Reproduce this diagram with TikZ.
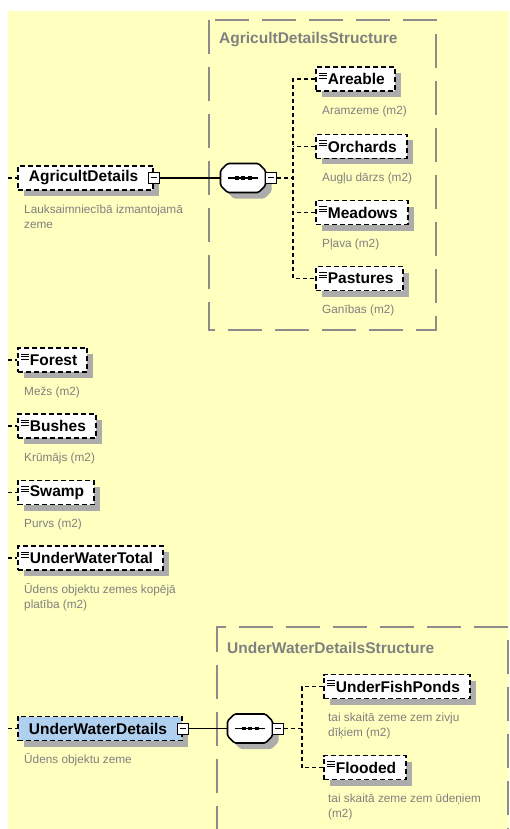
\documentclass[tikz,border=0pt]{standalone}
\usepackage{fontspec}
\setmainfont{Liberation Sans}
\usepackage{tikz}
\usetikzlibrary{shadows}
\definecolor{paper}{RGB}{255,255,192}
\definecolor{descgray}{RGB}{128,128,128}
\definecolor{framegray}{RGB}{140,140,140}
\definecolor{shadegray}{RGB}{172,172,172}
\definecolor{selblue}{RGB}{176,208,240}
\newcommand{\ename}[1]{\hspace*{9pt}#1\hspace*{7pt}}
\newcommand{\cname}[1]{\hspace*{8pt}#1\hspace*{12pt}}
% sequence compositor drawn round a seqbox node
\newcommand{\seqoct}[1]{%
  \draw[octo] ([xshift=7pt]#1.north west) -- ([xshift=-7pt]#1.north east)
    -- ([yshift=-7pt]#1.north east) -- ([yshift=7pt]#1.south east)
    -- ([xshift=-7pt]#1.south east) -- ([xshift=7pt]#1.south west)
    -- ([yshift=7pt]#1.south west) -- ([yshift=-7pt]#1.north west) -- cycle;
  \draw[seqbar] ([xshift=-15pt]#1.center) -- ([xshift=15pt]#1.center);
  \foreach \dx in {-6.5,0,6.5}
    \fill ([xshift=\dx pt]#1.center) +(-2pt,-1.8pt) rectangle +(2pt,1.8pt);}

\begin{document}
\begin{tikzpicture}[x=1pt,y=-1pt,
  elem/.style={draw=black, fill=white, line width=1.8pt, dash pattern=on 5pt off 3pt,
    minimum height=24pt, inner xsep=3pt, inner ysep=0pt, anchor=west,
    font=\fontsize{15.5}{18}\selectfont\bfseries,
    general shadow={fill=shadegray, shadow xshift=6pt, shadow yshift=-6pt}},
  simple/.style={elem, path picture={
    \foreach \k in {0,1,2}
      \draw[solid, black, line width=0.9pt] ([xshift=3pt, yshift={-6pt-2.7pt*\k}]path picture bounding box.north west) -- ++(8pt,0);}},
  minus/.style={draw=black, fill=white, solid, line width=1pt, minimum width=11pt,
    minimum height=11pt, inner sep=0pt, path picture={
    \draw[solid, black, line width=1pt] ([xshift=-3pt]path picture bounding box.center) -- ([xshift=3pt]path picture bounding box.center);}},
  seqbox/.style={minimum width=45pt, minimum height=29pt, inner sep=0pt, outer sep=0pt},
  octo/.style={draw=black, fill=white, line width=1.6pt, rounded corners=1.5pt,
    general shadow={fill=shadegray, shadow xshift=6pt, shadow yshift=-6pt}},
  seqbar/.style={draw=black, line width=1.5pt},
  desc/.style={anchor=north west, inner sep=0pt, align=left, text=descgray,
    font=\fontsize{11.8}{15}\selectfont},
  struct/.style={draw=framegray, line width=2pt, dash pattern=on 34pt off 13pt},
  title/.style={anchor=west, inner sep=0pt, text=descgray, font=\fontsize{15.5}{18}\selectfont\bfseries},
  link/.style={draw=black, line width=1.5pt},
  dlink/.style={link, dash pattern=on 4pt off 3pt}]
\useasboundingbox (0,0) rectangle (509,829);
\clip (0,0) rectangle (509,829);
\fill[paper] (8,11) rectangle (509,829);
\coordinate (edge) at (8,0);
% AgricultDetails
\draw[struct] (209,20) rectangle (436,330);
\node[title] (agriT) at (219,40) {AgricultDetailsStructure};
\node[elem] (agri) at (17,178) {\cname{AgricultDetails}};
\node[minus] (agriM) at (agri.east) {};
\node[desc] (agriD) at ([xshift=7pt,yshift=-11.5pt]agri.south west) {\strut Lauksaimniecībā izmantojamā\\zeme};
\node[seqbox] (seqA) at (243,178) {};
\seqoct{seqA}
\node[minus] (seqAM) at ([xshift=5.5pt]seqA.east) {};
\coordinate (spineA) at (293,178);
\node[simple] (areable) at (315,79) {\ename{Areable}};
\node[desc] (areableD) at ([xshift=7pt,yshift=-11.5pt]areable.south west) {\strut Aramzeme (m2)};
\node[simple] (orchards) at (315,146.5) {\ename{Orchards}};
\node[desc] (orchardsD) at ([xshift=7pt,yshift=-11.5pt]orchards.south west) {\strut Augļu dārzs (m2)};
\node[simple] (meadows) at (315,212.5) {\ename{Meadows}};
\node[desc] (meadowsD) at ([xshift=7pt,yshift=-11.5pt]meadows.south west) {\strut Pļava (m2)};
\node[simple] (pastures) at (315,278.5) {\ename{Pastures}};
\node[desc] (pasturesD) at ([xshift=7pt,yshift=-11.5pt]pastures.south west) {\strut Ganības (m2)};
% plain elements
\node[simple] (forest) at (17,360) {\ename{Forest}};
\node[desc] (forestD) at ([xshift=7pt,yshift=-11.5pt]forest.south west) {\strut Mežs (m2)};
\node[simple] (bushes) at (17,426) {\ename{Bushes}};
\node[desc] (bushesD) at ([xshift=7pt,yshift=-11.5pt]bushes.south west) {\strut Krūmājs (m2)};
\node[simple] (swamp) at (17,492.5) {\ename{Swamp}};
\node[desc] (swampD) at ([xshift=7pt,yshift=-11.5pt]swamp.south west) {\strut Purvs (m2)};
\node[simple] (uwtotal) at (17,558) {\ename{UnderWaterTotal}};
\node[desc] (uwtotalD) at ([xshift=7pt,yshift=-11.5pt]uwtotal.south west) {\strut Ūdens objektu zemes kopējā\\platība (m2)};
% UnderWaterDetails
\draw[struct] (217,840) |- (508,627) -- (508,840);
\node[title] (uwdetT) at (227,648) {UnderWaterDetailsStructure};
\node[elem, fill=selblue] (uwdet) at (17,728.5) {\cname{UnderWaterDetails}};
\node[minus] (uwdetM) at (uwdet.east) {};
\node[desc] (uwdetD) at ([xshift=7pt,yshift=-11.5pt]uwdet.south west) {\strut Ūdens objektu zeme};
\node[seqbox] (seqB) at (250,728.5) {};
\seqoct{seqB}
\node[minus] (seqBM) at ([xshift=5.5pt]seqB.east) {};
\coordinate (spineB) at (302,728.5);
\node[simple] (fish) at (323,686.5) {\ename{UnderFishPonds}};
\node[desc] (fishD) at ([xshift=5pt,yshift=-11.5pt]fish.south west) {\strut tai skaitā zeme zem zivju\\dīķiem (m2)};
\node[simple] (flooded) at (323,767.5) {\ename{Flooded}};
\node[desc] (floodedD) at ([xshift=5pt,yshift=-11.5pt]flooded.south west) {\strut tai skaitā zeme zem ūdeņiem\\(m2)};
% links
\draw[link] (agriM.east) -- (seqA.west);
\draw[dlink] (seqAM.east) -- (spineA);
\draw[dlink] (areable.west) -| (spineA) |- (pastures.west);
\draw[dlink] (orchards.west) -- (orchards.west -| spineA);
\draw[dlink] (meadows.west) -- (meadows.west -| spineA);
\draw[link] (uwdetM.east) -- (seqB.west);
\draw[dlink] (seqBM.east) -- (spineB);
\draw[dlink] (fish.west) -| (spineB) |- (flooded.west);
\draw[dlink] (edge |- agri.west) -- (agri.west);
\draw[dlink] (edge |- forest.west) -- (forest.west);
\draw[dlink] (edge |- bushes.west) -- (bushes.west);
\draw[dlink] (edge |- swamp.west) -- (swamp.west);
\draw[dlink] (edge |- uwtotal.west) -- (uwtotal.west);
\draw[dlink] (edge |- uwdet.west) -- (uwdet.west);
\end{tikzpicture}
\end{document}
